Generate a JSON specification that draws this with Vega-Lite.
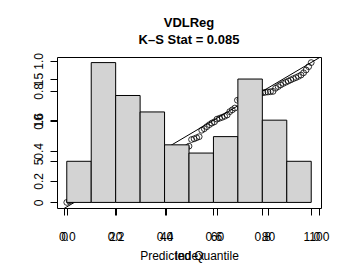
{
  "$schema": "https://vega.github.io/schema/vega-lite/v6.json",
  "width": 264,
  "height": 151,
  "autosize": {"type": "none"},
  "padding": {"left": 57, "top": 57, "right": 30, "bottom": 72},
  "background": "white",
  "title": {
    "text": ["VDLReg", "K–S Stat = 0.085"],
    "font": "Liberation Sans",
    "fontSize": 13,
    "fontWeight": "bold",
    "color": "black",
    "anchor": "middle",
    "frame": "group",
    "lineHeight": 17,
    "baseline": "bottom",
    "offset": -7
  },
  "datasets": {
    "pts": [
      {"index": 1, "value": 0.057}, {"index": 2, "value": 0.066}, {"index": 3, "value": 0.074}, {"index": 4, "value": 0.083}, {"index": 5, "value": 0.093},
      {"index": 6, "value": 0.104}, {"index": 7, "value": 0.110}, {"index": 8, "value": 0.116}, {"index": 9, "value": 0.122}, {"index": 10, "value": 0.128},
      {"index": 11, "value": 0.134}, {"index": 12, "value": 0.139}, {"index": 13, "value": 0.145}, {"index": 14, "value": 0.150}, {"index": 15, "value": 0.156},
      {"index": 16, "value": 0.161}, {"index": 17, "value": 0.167}, {"index": 18, "value": 0.172}, {"index": 19, "value": 0.178}, {"index": 20, "value": 0.184},
      {"index": 21, "value": 0.190}, {"index": 22, "value": 0.196}, {"index": 23, "value": 0.203}, {"index": 24, "value": 0.211}, {"index": 25, "value": 0.219},
      {"index": 26, "value": 0.227}, {"index": 27, "value": 0.234}, {"index": 28, "value": 0.241}, {"index": 29, "value": 0.249}, {"index": 30, "value": 0.256},
      {"index": 31, "value": 0.263}, {"index": 32, "value": 0.270}, {"index": 33, "value": 0.278}, {"index": 34, "value": 0.286}, {"index": 35, "value": 0.294},
      {"index": 36, "value": 0.302}, {"index": 37, "value": 0.311}, {"index": 38, "value": 0.320}, {"index": 39, "value": 0.329}, {"index": 40, "value": 0.338},
      {"index": 41, "value": 0.347}, {"index": 42, "value": 0.356}, {"index": 43, "value": 0.365}, {"index": 44, "value": 0.374}, {"index": 45, "value": 0.383},
      {"index": 46, "value": 0.392}, {"index": 47, "value": 0.408}, {"index": 48, "value": 0.421}, {"index": 49, "value": 0.432}, {"index": 50, "value": 0.476},
      {"index": 51, "value": 0.481}, {"index": 52, "value": 0.488}, {"index": 53, "value": 0.495}, {"index": 54, "value": 0.538}, {"index": 55, "value": 0.548},
      {"index": 56, "value": 0.562}, {"index": 57, "value": 0.575}, {"index": 58, "value": 0.586}, {"index": 59, "value": 0.594}, {"index": 60, "value": 0.612},
      {"index": 61, "value": 0.618}, {"index": 62, "value": 0.624}, {"index": 63, "value": 0.631}, {"index": 64, "value": 0.640}, {"index": 65, "value": 0.662},
      {"index": 66, "value": 0.674}, {"index": 67, "value": 0.686}, {"index": 68, "value": 0.738}, {"index": 69, "value": 0.742}, {"index": 70, "value": 0.748},
      {"index": 71, "value": 0.753}, {"index": 72, "value": 0.759}, {"index": 73, "value": 0.764}, {"index": 74, "value": 0.769}, {"index": 75, "value": 0.775},
      {"index": 76, "value": 0.780}, {"index": 77, "value": 0.784}, {"index": 78, "value": 0.788}, {"index": 79, "value": 0.791}, {"index": 80, "value": 0.793},
      {"index": 81, "value": 0.795}, {"index": 82, "value": 0.797}, {"index": 83, "value": 0.818}, {"index": 84, "value": 0.829}, {"index": 85, "value": 0.840},
      {"index": 86, "value": 0.850}, {"index": 87, "value": 0.858}, {"index": 88, "value": 0.866}, {"index": 89, "value": 0.874}, {"index": 90, "value": 0.882},
      {"index": 91, "value": 0.889}, {"index": 92, "value": 0.897}, {"index": 93, "value": 0.906}, {"index": 94, "value": 0.921}, {"index": 95, "value": 0.940},
      {"index": 96, "value": 0.962}, {"index": 97, "value": 0.989}
    ],
    "qqline": [
      {"index": -3, "value": -0.013},
      {"index": 101, "value": 1.030}
    ],
    "bins": [
      {"bin_start": 0.0, "bin_end": 0.1, "count": 5},
      {"bin_start": 0.1, "bin_end": 0.2, "count": 17},
      {"bin_start": 0.2, "bin_end": 0.3, "count": 13},
      {"bin_start": 0.3, "bin_end": 0.4, "count": 11},
      {"bin_start": 0.4, "bin_end": 0.5, "count": 7},
      {"bin_start": 0.5, "bin_end": 0.6, "count": 6},
      {"bin_start": 0.6, "bin_end": 0.7, "count": 8},
      {"bin_start": 0.7, "bin_end": 0.8, "count": 15},
      {"bin_start": 0.8, "bin_end": 0.9, "count": 10},
      {"bin_start": 0.9, "bin_end": 1.0, "count": 5}
    ]
  },
  "layer": [
    {
      "encoding": {
        "x": {
          "field": "index", "type": "quantitative",
          "scale": {"domain": [-2.84, 100.84], "nice": false, "zero": false},
          "axis": {"orient": "bottom", "values": [0, 20, 40, 60, 80, 100], "format": "d", "title": "Index"}
        },
        "y": {
          "field": "value", "type": "quantitative",
          "scale": {"domain": [0.0197, 1.0263], "nice": false, "zero": false},
          "axis": {"orient": "left", "values": [0.2, 0.4, 0.6, 0.8, 1.0], "format": ".1f", "title": null}
        }
      },
      "layer": [
        {
          "data": {"name": "qqline"},
          "mark": {"type": "line", "color": "black", "strokeWidth": 1, "clip": true}
        },
        {
          "data": {"name": "pts"},
          "mark": {"type": "point", "shape": "circle", "filled": false, "stroke": "black", "strokeWidth": 0.8, "size": 34, "opacity": 1}
        }
      ]
    },
    {
      "data": {"name": "bins"},
      "mark": {"type": "rect", "fill": "#D3D3D3", "stroke": "black", "strokeWidth": 1},
      "encoding": {
        "x": {
          "field": "bin_start", "type": "quantitative",
          "scale": {"domain": [-0.04, 1.04], "nice": false, "zero": false},
          "axis": {"orient": "bottom", "values": [0, 0.2, 0.4, 0.6, 0.8, 1.0], "format": ".1f", "title": "Predicted Quantile"}
        },
        "x2": {"field": "bin_end"},
        "y": {
          "field": "count", "type": "quantitative",
          "scale": {"domain": [-0.68, 17.68], "nice": false, "zero": false},
          "axis": {"orient": "left", "values": [0, 5, 10, 15], "format": "d", "title": null}
        },
        "y2": {"datum": 0}
      }
    }
  ],
  "resolve": {
    "scale": {"x": "independent", "y": "independent"},
    "axis": {"x": "independent", "y": "independent"}
  },
  "config": {
    "view": {"stroke": "black", "strokeWidth": 1},
    "axis": {
      "domain": false,
      "grid": false,
      "ticks": true,
      "tickSize": 7,
      "tickColor": "black",
      "tickWidth": 1,
      "labelFont": "Liberation Sans",
      "labelFontSize": 12,
      "labelColor": "black",
      "labelFlush": false,
      "labelOverlap": false,
      "labelPadding": 16,
      "titleFont": "Liberation Sans",
      "titleFontSize": 12,
      "titleFontWeight": "normal",
      "titleColor": "black",
      "titlePadding": 8
    },
    "axisLeft": {
      "labelAngle": 270,
      "labelAlign": "center",
      "labelBaseline": "bottom",
      "labelPadding": 5
    }
  }
}
